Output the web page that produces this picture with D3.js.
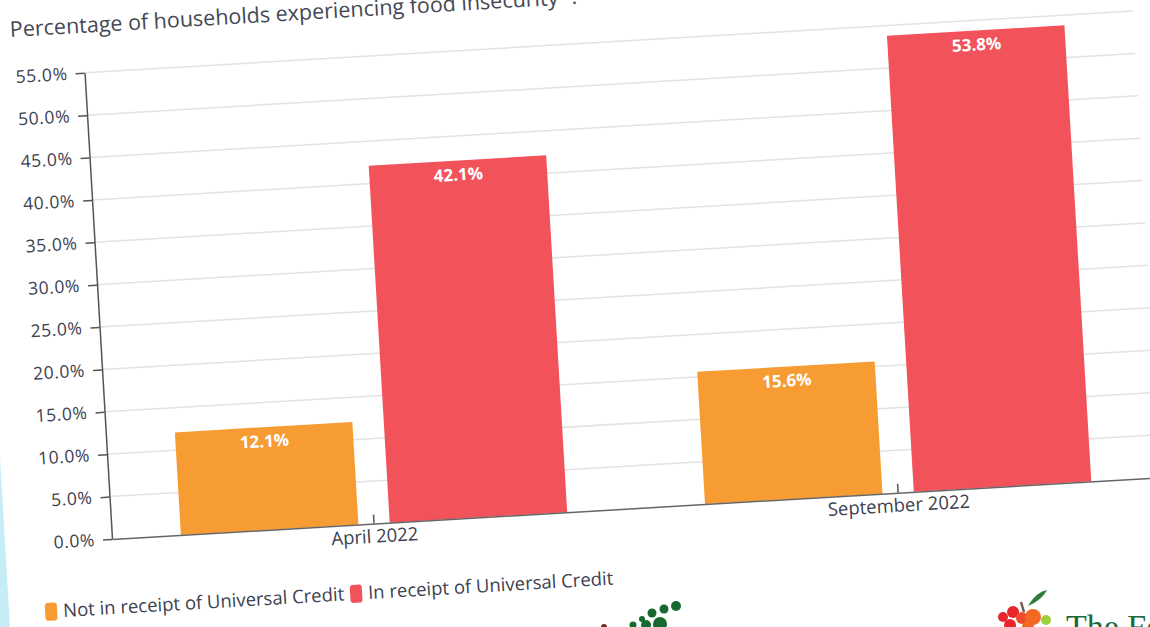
<!DOCTYPE html>
<html>
<head>
<meta charset="utf-8">
<script src="https://cdn.jsdelivr.net/npm/d3@7"></script>
<style>
  html, body { margin: 0; padding: 0; background: #ffffff; }
  svg { display: block; }
</style>
</head>
<body>
<svg id="chart"></svg>
<script>
// [A] Datos ------------------------------------------------------------------
const periods = ["April 2022", "September 2022"];
const seriesNames = ["Not in receipt of Universal Credit", "In receipt of Universal Credit"];
const notInReceipt = [12.1, 15.6];
const inReceipt = [42.1, 53.8];
const seriesColors = ["#f79c33", "#f2535b"];
const yTicks = [0, 5, 10, 15, 20, 25, 30, 35, 40, 45, 50, 55];
const titleText = "Percentage of households experiencing food insecurity\u00b9 :";

// [B] Configuracion ----------------------------------------------------------
const width = 1150;
const height = 627;
const origin = [112, 539];   // esquina inferior izquierda del area de trazado
const angle = -3.37;         // la foto esta girada
const plotW = 1050;
const plotH = 467;
const font = "'Open Sans', 'Lato', sans-serif";
const textColor = "#3d4150";

const svg = d3.select("#chart")
    .attr("width", width)
    .attr("height", height)
    .attr("viewBox", `0 0 ${width} ${height}`);

// fondo cian fuera de la pagina
const defs = svg.append("defs");
const grad = defs.append("linearGradient")
    .attr("id", "edge")
    .attr("x1", "0").attr("x2", "1").attr("y1", "0").attr("y2", "0");
grad.append("stop").attr("offset", "0").attr("stop-color", "#c6edf6");
grad.append("stop").attr("offset", "1").attr("stop-color", "#eefafd");

svg.append("rect")
    .attr("width", width)
    .attr("height", height)
    .attr("fill", "url(#edge)");

const g = svg.append("g")
    .attr("transform", `translate(${origin[0]},${origin[1]}) rotate(${angle})`);

// pagina blanca
g.append("rect")
    .attr("x", -107)
    .attr("y", -700)
    .attr("width", 1400)
    .attr("height", 900)
    .attr("fill", "#ffffff");

// [C] Escalas ----------------------------------------------------------------
const y = d3.scaleLinear().domain([0, 55]).range([0, -plotH]);
const x0 = d3.scaleBand().domain(periods).range([0, plotW]).padding(0);
const x1 = d3.scaleBand().domain(seriesNames).range([0, x0.bandwidth()])
    .paddingInner(0.15).paddingOuter(0.33);

// [D] Cuadricula -------------------------------------------------------------
g.append("g")
    .selectAll("line")
    .data(yTicks.filter(d => d > 0))
    .join("line")
    .attr("x1", 0)
    .attr("x2", plotW)
    .attr("y1", d => y(d))
    .attr("y2", d => y(d))
    .attr("stroke", "#e2e2e2")
    .attr("stroke-width", 1.5);

// [E] Barras -----------------------------------------------------------------
const rows = periods.map((p, i) => ({ period: p, values: [notInReceipt[i], inReceipt[i]] }));

const groups = g.append("g")
    .selectAll("g")
    .data(rows)
    .join("g")
    .attr("transform", d => `translate(${x0(d.period)},0)`);

groups.selectAll("rect")
    .data(d => d.values.map((v, k) => ({ name: seriesNames[k], value: v, k })))
    .join("rect")
    .attr("x", d => x1(d.name))
    .attr("y", d => y(d.value))
    .attr("width", x1.bandwidth())
    .attr("height", d => -y(d.value))
    .attr("fill", d => seriesColors[d.k]);

groups.selectAll("text")
    .data(d => d.values.map((v, k) => ({ name: seriesNames[k], value: v, k })))
    .join("text")
    .attr("x", d => x1(d.name) + x1.bandwidth() / 2)
    .attr("y", d => y(d.value) + 20)
    .attr("text-anchor", "middle")
    .attr("font-family", font)
    .attr("font-size", 17)
    .attr("font-weight", 700)
    .attr("fill", "#ffffff")
    .text(d => d.value.toFixed(1) + "%");

// [F] Ejes -------------------------------------------------------------------
const yAxis = g.append("g")
    .call(d3.axisLeft(y)
        .tickValues(yTicks)
        .tickFormat(d => d.toFixed(1) + "%")
        .tickSize(9)
        .tickSizeOuter(0)
        .tickPadding(8));
yAxis.select(".domain").attr("stroke", "#555").attr("stroke-width", 1.5);
yAxis.selectAll(".tick line").attr("stroke", "#555").attr("stroke-width", 1.5);
yAxis.selectAll("text")
    .attr("font-family", font)
    .attr("font-size", 17.5)
    .attr("letter-spacing", 0.6)
    .attr("fill", textColor);

const xAxis = g.append("g")
    .call(d3.axisBottom(x0)
        .tickSize(-9)
        .tickSizeOuter(0)
        .tickPadding(6));
xAxis.select(".domain").attr("stroke", "#666").attr("stroke-width", 1.5);
xAxis.selectAll(".tick line").attr("stroke", "#555").attr("stroke-width", 1.5);
xAxis.selectAll("text")
    .attr("font-family", font)
    .attr("font-size", 18.5)
    .attr("fill", textColor);

// [G] Titulo -----------------------------------------------------------------
g.append("text")
    .attr("x", -72)
    .attr("y", -507)
    .attr("font-family", font)
    .attr("font-size", 21.5)
    .attr("fill", "#444854")
    .text(titleText);

// [H] Leyenda ----------------------------------------------------------------
const legend = g.append("g").attr("transform", "translate(-71,69)");
let lx = 0;
seriesNames.forEach((name, k) => {
    legend.append("rect")
        .attr("x", lx)
        .attr("y", -9)
        .attr("width", 12)
        .attr("height", 18)
        .attr("rx", 3)
        .attr("fill", seriesColors[k]);
    const t = legend.append("text")
        .attr("x", lx + 18)
        .attr("y", 6)
        .attr("font-family", font)
        .attr("font-size", 18.5)
        .attr("fill", textColor)
        .text(name);
    lx += 18 + t.node().getComputedTextLength() + 6;
});

// [I] Logos (decoracion) -----------------------------------------------------
const logo1 = svg.append("g").attr("fill", "#17692f");
[[676, 606, 5], [664, 609, 4.5], [652, 613, 4.5], [642, 619, 3], [646, 625, 5],
 [660, 624, 7], [633, 625, 3.5]].forEach(c => {
    logo1.append("circle").attr("cx", c[0]).attr("cy", c[1]).attr("r", c[2]);
});
svg.append("circle").attr("cx", 604).attr("cy", 627).attr("r", 3).attr("fill", "#7a2a1e");

const logo2 = svg.append("g");
[[1003, 617, 5, "#e8262b"], [1013, 612, 6, "#e8262b"], [1022, 618, 6, "#f04a2f"],
 [1033, 617, 8, "#f26a22"], [1046, 620, 5, "#9ccf3b"], [1010, 625, 6, "#e8262b"],
 [1028, 627, 6, "#f26a22"]].forEach(c => {
    logo2.append("circle").attr("cx", c[0]).attr("cy", c[1]).attr("r", c[2]).attr("fill", c[3]);
});
logo2.append("line").attr("x1", 1021).attr("y1", 602).attr("x2", 1024).attr("y2", 612)
    .attr("stroke", "#7a5a4a").attr("stroke-width", 2.5);
logo2.append("path").attr("d", "M1028 606 Q1036 592 1047 590 Q1042 600 1028 606 Z").attr("fill", "#2f7d3a");
svg.append("text")
    .attr("x", 1066)
    .attr("y", 638)
    .attr("font-family", "'Liberation Serif', serif")
    .attr("font-size", 34)
    .attr("fill", "#1b6a3a")
    .text("The Food Foundation");
</script>
</body>
</html>
